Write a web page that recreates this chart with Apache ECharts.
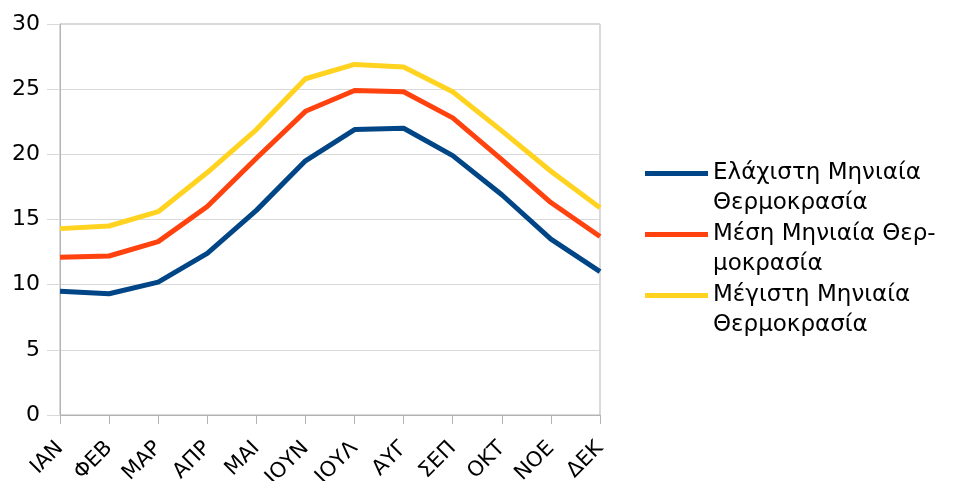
<!DOCTYPE html>
<html>
<head>
<meta charset="utf-8">
<script src="https://cdn.jsdelivr.net/npm/echarts@6/dist/echarts.min.js"></script>
<style>
  html, body { margin: 0; padding: 0; background: #fff; }
  #chart { width: 960px; height: 481px; }
</style>
</head>
<body>
<div id="chart"></div>
<script>
// μήνες
var months = ['ΙΑΝ', 'ΦΕΒ', 'ΜΑΡ', 'ΑΠΡ', 'ΜΑΙ', 'ΙΟΥΝ', 'ΙΟΥΛ', 'ΑΥΓ', 'ΣΕΠ', 'ΟΚΤ', 'ΝΟΕ', 'ΔΕΚ'];

var minTemp = [9.5, 9.3, 10.2, 12.4, 15.7, 19.5, 21.9, 22.0, 19.9, 16.9, 13.5, 11.0];
var meanTemp = [12.1, 12.2, 13.3, 16.0, 19.7, 23.3, 24.9, 24.8, 22.8, 19.6, 16.3, 13.7];
var maxTemp = [14.3, 14.5, 15.6, 18.6, 21.9, 25.8, 26.9, 26.7, 24.8, 21.8, 18.7, 15.9];

var names = ['Ελάχιστη Μηνιαία\nΘερμοκρασία', 'Μέση Μηνιαία Θερ-\nμοκρασία', 'Μέγιστη Μηνιαία\nΘερμοκρασία'];
var colors = ['#004586', '#ff420e', '#ffd320'];

// legend icon: line at the first text row
var legendIcon = 'path://M0,13h63v5h-63z M0,0h0.01v0.01h-0.01z M0,59.99h0.01v0.01h-0.01z';

var chart = echarts.init(document.getElementById('chart'));

function mkSeries(i, data) {
  return {
    name: names[i],
    type: 'line',
    data: data,
    showSymbol: false,
    symbol: 'none',
    lineStyle: { color: colors[i], width: 5 },
    itemStyle: { color: colors[i] },
    animation: false
  };
}

chart.setOption({
  animation: false,
  textStyle: { fontFamily: 'DejaVu Sans' },
  grid: {
    left: 60, right: 360, top: 24, bottom: 66,
    containLabel: false,
    outerBoundsMode: 'none',
    show: true, borderColor: '#b3b3b3', borderWidth: 1
  },
  legend: {
    orient: 'vertical',
    left: 640,
    top: 153,
    icon: legendIcon,
    itemWidth: 63,
    itemHeight: 60,
    itemGap: 1,
    textStyle: { fontSize: 23, color: '#000', lineHeight: 30, fontFamily: 'DejaVu Sans' }
  },
  xAxis: {
    type: 'category',
    data: months,
    boundaryGap: false,
    axisLine: { lineStyle: { color: '#b3b3b3' } },
    axisTick: { show: true, length: 9, lineStyle: { color: '#b3b3b3' } },
    axisLabel: { rotate: 45, fontSize: 21, color: '#000', margin: 30, interval: 0 },
    splitLine: { show: false }
  },
  yAxis: {
    type: 'value',
    min: 0, max: 30, interval: 5,
    axisLine: { show: true, lineStyle: { color: '#b3b3b3' } },
    axisTick: { show: true, length: 13, lineStyle: { color: '#d9d9d9' } },
    axisLabel: { fontSize: 22, color: '#000', margin: 20 },
    splitLine: { lineStyle: { color: '#d9d9d9' } }
  },
  series: [mkSeries(0, minTemp), mkSeries(1, meanTemp), mkSeries(2, maxTemp)]
});
</script>
</body>
</html>
